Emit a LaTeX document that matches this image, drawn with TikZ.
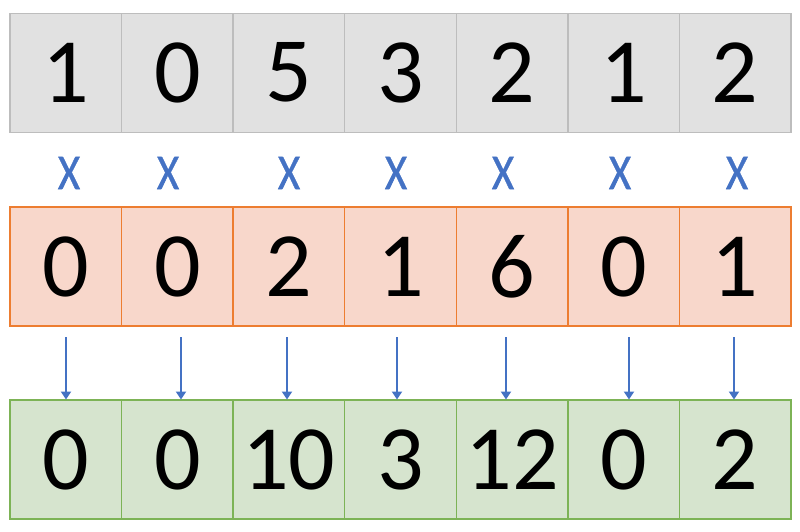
\documentclass[tikz,border=0pt]{standalone}
\usepackage{fontspec}
\setmainfont{Carlito}
\newfontfamily\heavyx[FakeBold=1.2]{Carlito}
\usetikzlibrary{arrows.meta}
\definecolor{grayfill}{HTML}{E1E1E1}
\definecolor{grayline}{HTML}{BDBDBD}
\definecolor{orfill}{HTML}{F8D7CB}
\definecolor{orline}{HTML}{ED7D31}
\definecolor{grfill}{HTML}{D6E4CE}
\definecolor{grline}{HTML}{7DB356}
\definecolor{blueop}{HTML}{4472C4}
\tikzset{
  cell/.style={rectangle, minimum width=111.57pt, minimum height=119pt, inner sep=0pt, outer sep=0pt, line width=1.3pt, font=\fontsize{92}{92}\selectfont},
  graycell/.style={cell, fill=grayfill, draw=grayline},
  orcell/.style={cell, fill=orfill, draw=orline},
  grcell/.style={cell, fill=grfill, draw=grline},
  times/.style={inner sep=0pt, text=blueop, font=\heavyx\fontsize{50}{50}\selectfont},
  arr/.style={draw=blueop, line width=2.8pt, -{Triangle[width=10pt,length=8pt]}}
}
\begin{document}
\begin{tikzpicture}[x=1pt,y=-1pt]
\useasboundingbox (0,0) rectangle (800,531);
\foreach \v [count=\i] in {1,0,5,3,2,1,2} {
  \node[graycell] (t\i) at ({10+111.57*(\i-0.5)},72.75) {\v};
}
\foreach \v [count=\i] in {0,0,2,1,6,0,1} {
  \node[orcell] (m\i) at ({10+111.57*(\i-0.5)},266.5) {\v};
}
\foreach \v [count=\i] in {0,0,10,3,12,0,2} {
  \node[grcell] (b\i) at ({10+111.57*(\i-0.5)},459.5) {\v};
}
\foreach \xx [count=\i] in {69,168,289,396,503,620,737} {
  \node[times] (x\i) at (\xx,173) {\scalebox{0.85}[1]{X}};
}
\foreach \xx [count=\i] in {66,181,287,397,506,629,734} {
  \coordinate (s\i) at (\xx,337);
  \coordinate (e\i) at (\xx,399.5);
  \draw[arr] (s\i) -- (e\i);
}
\end{tikzpicture}
\end{document}
